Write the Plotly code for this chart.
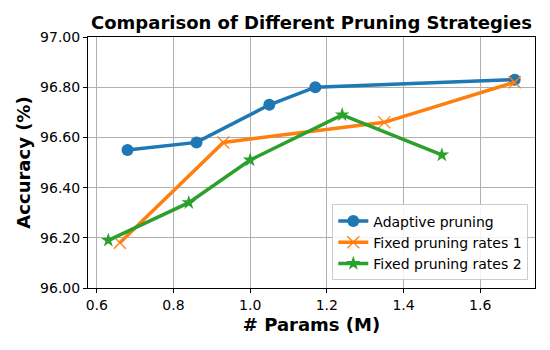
import plotly.graph_objs as go

# data
adaptive_x = [0.68, 0.86, 1.05, 1.17, 1.69]
adaptive_y = [96.55, 96.58, 96.73, 96.80, 96.83]
fixed1_x = [0.66, 0.93, 1.35, 1.69]
fixed1_y = [96.18, 96.58, 96.66, 96.82]
fixed2_x = [0.63, 0.84, 1.00, 1.24, 1.50]
fixed2_y = [96.19, 96.34, 96.51, 96.69, 96.53]

y_ticks = [96.0, 96.2, 96.4, 96.6, 96.8, 97.0]
x_ticks = [0.6, 0.8, 1.0, 1.2, 1.4, 1.6]

fig = go.Figure()

fig.add_trace(go.Scatter(
    x=adaptive_x, y=adaptive_y, mode='lines+markers', name='Adaptive pruning',
    line=dict(color='#1f77b4', width=3.5),
    marker=dict(symbol='circle', size=12, color='#1f77b4')
))
fig.add_trace(go.Scatter(
    x=fixed1_x, y=fixed1_y, mode='lines+markers', name='Fixed pruning rates 1',
    line=dict(color='#ff7f0e', width=3.5),
    marker=dict(symbol='x-thin', size=12, color='#ff7f0e',
                line=dict(color='#ff7f0e', width=1.3))
))
fig.add_trace(go.Scatter(
    x=fixed2_x, y=fixed2_y, mode='lines+markers', name='Fixed pruning rates 2',
    line=dict(color='#2ca02c', width=3.5),
    marker=dict(symbol='star', size=11, color='#2ca02c')
))

fig.update_layout(
    width=550, height=350,
    margin=dict(l=88, r=15, t=37, b=62),
    paper_bgcolor='white',
    plot_bgcolor='white',
    font=dict(family='DejaVu Sans', color='black', size=14),
    title=dict(text='<b>Comparison of Different Pruning Strategies</b>',
               xref='paper', x=0.5, xanchor='center',
               yref='container', y=1 - 23 / 350, yanchor='middle',
               font=dict(size=18)),
    legend=dict(
        x=0.985, y=0.03, xanchor='right', yanchor='bottom',
        bgcolor='rgba(255,255,255,0.85)', bordercolor='#cccccc', borderwidth=1,
        font=dict(size=14), tracegroupgap=0
    ),
    showlegend=True
)

fig.update_xaxes(
    range=[0.577, 1.743], tickvals=x_ticks, ticktext=[f'{v:.1f}' for v in x_ticks],
    title=dict(text='<b># Params (M)</b>', font=dict(size=18), standoff=6),
    automargin=False,
    showgrid=True, gridcolor='#b0b0b0', gridwidth=1,
    showline=True, linecolor='black', linewidth=1, mirror=True,
    ticks='outside', ticklen=4, tickcolor='black', zeroline=False
)
fig.update_yaxes(
    range=[96.0, 97.0], tickvals=y_ticks, ticktext=[f'{v:.2f}' for v in y_ticks],
    title=dict(text='<b>Accuracy (%)</b>', font=dict(size=18), standoff=4),
    automargin=False,
    showgrid=True, gridcolor='#b0b0b0', gridwidth=1,
    showline=True, linecolor='black', linewidth=1, mirror=True,
    ticks='outside', ticklen=4, tickcolor='black', zeroline=False
)

# drop the default page margin so the figure sits at the window's corner
fig.write_html("out.html", config={'displayModeBar': False},
               post_script="document.body.style.margin='0';document.body.style.overflow='hidden';")
